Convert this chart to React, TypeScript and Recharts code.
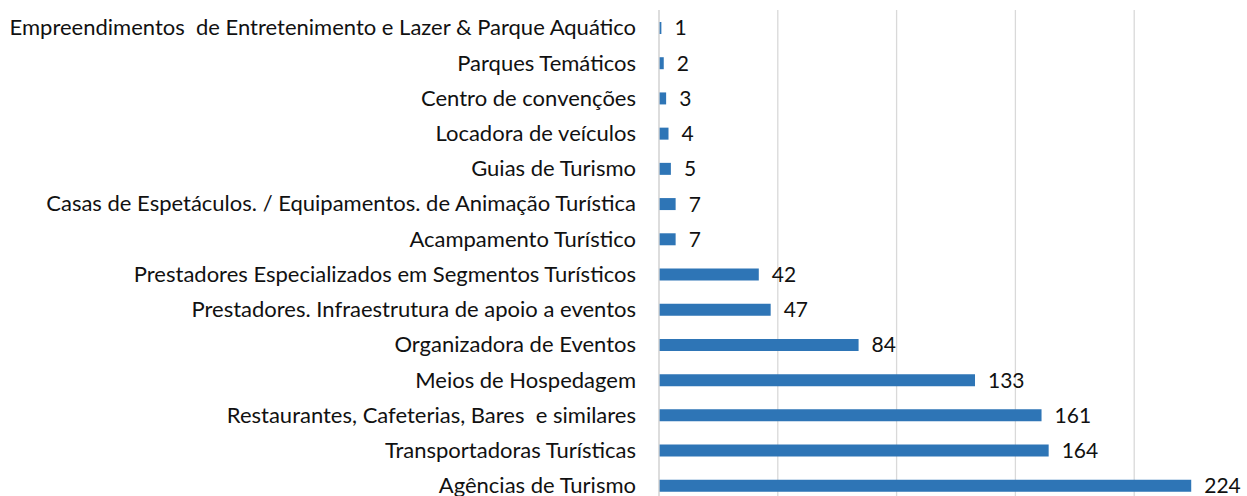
import { BarChart, Bar, XAxis, YAxis, CartesianGrid, LabelList } from 'recharts'

const categories = [
  'Empreendimentos  de Entretenimento e Lazer & Parque Aquático',
  'Parques Temáticos',
  'Centro de convenções',
  'Locadora de veículos',
  'Guias de Turismo',
  'Casas de Espetáculos. / Equipamentos. de Animação Turística',
  'Acampamento Turístico',
  'Prestadores Especializados em Segmentos Turísticos',
  'Prestadores. Infraestrutura de apoio a eventos',
  'Organizadora de Eventos',
  'Meios de Hospedagem',
  'Restaurantes, Cafeterias, Bares  e similares',
  'Transportadoras Turísticas',
  'Agências de Turismo',
]
const counts = [1, 2, 3, 4, 5, 7, 7, 42, 47, 84, 133, 161, 164, 224]
const xTicks = [0, 50, 100, 150, 200, 250]

const data = categories.map((name, i) => ({ name, value: counts[i] }))

const FONT = 'Lato, "Open Sans", sans-serif'

// keeps the double spaces that the original labels have
const CategoryTick = ({ x, y, payload }: any) => (
  <text
    x={x - 21}
    y={y}
    dy="0.355em"
    textAnchor="end"
    fill="#111"
    fontSize={22}
    fontFamily={FONT}
    xmlSpace="preserve"
    style={{ whiteSpace: 'pre' }}
  >
    {payload.value}
  </text>
)

export default function App() {
  return (
    <div style={{ position: 'absolute', left: 0, top: 0, width: 1247, height: 496, overflow: 'hidden', background: '#fff' }}>
      <BarChart
        layout="vertical"
        width={1259}
        height={503}
        data={data}
        margin={{ top: 10, right: 6, bottom: 0, left: 0 }}
      >
        <CartesianGrid horizontal={false} stroke="#d9d9d9" strokeWidth={1.3} />
        <XAxis type="number" domain={[0, 250]} ticks={xTicks} hide />
        <YAxis
          type="category"
          dataKey="name"
          width={659}
          interval={0}
          tickLine={false}
          tickSize={0}
          axisLine={{ stroke: '#d9d9d9', strokeWidth: 1.3 }}
          tick={<CategoryTick />}
        />
        <Bar dataKey="value" fill="#2e75b6" barSize={12} isAnimationActive={false}>
          <LabelList
            dataKey="value"
            position="right"
            offset={13}
            fill="#111"
            fontSize={21}
            fontFamily={FONT}
          />
        </Bar>
      </BarChart>
    </div>
  )
}
